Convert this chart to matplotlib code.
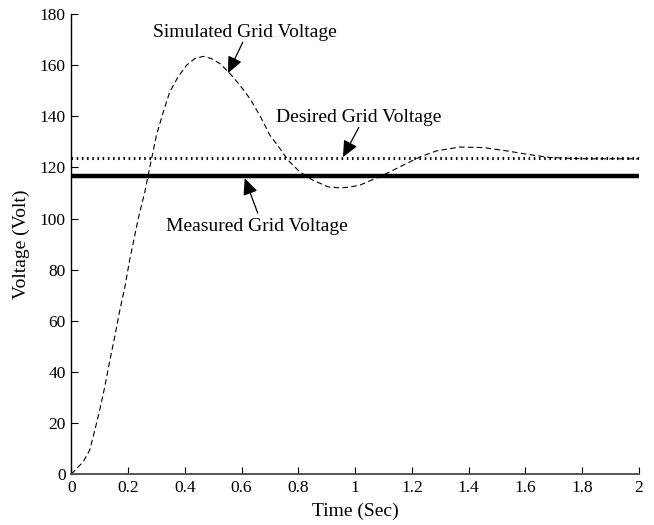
import matplotlib
matplotlib.use("Agg")
import matplotlib.pyplot as plt

plt.rcParams['font.family'] = ['Liberation Serif', 'DejaVu Serif']

# simulated grid voltage
t_sim = [0, 0.042, 0.065, 0.083, 0.100, 0.118, 0.136, 0.153, 0.171, 0.189,
         0.206, 0.236, 0.259, 0.271, 0.283, 0.300, 0.324, 0.347, 0.376, 0.406,
         0.435, 0.465, 0.494, 0.523, 0.559, 0.594, 0.629, 0.664, 0.700, 0.735,
         0.764, 0.805, 0.852, 0.905, 0.946, 0.980, 1.017, 1.099, 1.169, 1.228,
         1.287, 1.369, 1.451, 1.534, 1.604, 1.686, 1.750, 1.816, 2.0]
v_sim = [0, 4.8, 9.4, 17.2, 25.0, 34.2, 44.6, 53.7, 64.2, 73.3,
         84.0, 100.0, 110.4, 117.0, 123.5, 132.6, 141.7, 149.6, 155.4, 160.0,
         162.6, 163.5, 162.6, 160.7, 156.8, 152.2, 147.0, 140.4, 132.6, 127.4,
         122.8, 118.3, 115.0, 112.4, 112.0, 112.3, 113.1, 117.0, 120.9, 124.1,
         126.5, 128.0, 127.8, 126.5, 125.2, 123.9, 123.6, 123.4, 123.4]

t_span = [0, 2]
desired_v = 123.8
measured_v = 116.5

fig = plt.figure(figsize=(6.54, 5.25), dpi=100)
ax = fig.add_axes([0.109, 0.097, 0.868, 0.876])

ax.plot(t_sim, v_sim, color='k', lw=0.8, linestyle=(0, (5, 3)))
ax.plot(t_span, [desired_v, desired_v], color='k', lw=2.2, linestyle=(0, (0.5, 1.2)))
ax.plot(t_span, [measured_v, measured_v], color='k', lw=3.2, solid_capstyle='butt')

ax.set_xlim(0, 2)
ax.set_ylim(0, 180)
ax.set_xticks([0, 0.2, 0.4, 0.6, 0.8, 1, 1.2, 1.4, 1.6, 1.8, 2])
ax.set_xticklabels(['0', '0.2', '0.4', '0.6', '0.8', '1', '1.2', '1.4', '1.6', '1.8', '2'])
ax.set_yticks(range(0, 181, 20))
ax.tick_params(direction='in', length=5, labelsize=12.5, pad=4, color='k')

ax.spines['top'].set_visible(False)
ax.spines['right'].set_visible(False)
ax.spines['bottom'].set_color('#555555')
ax.spines['bottom'].set_linewidth(1.4)
ax.spines['left'].set_linewidth(1.0)

ax.set_xlabel('Time (Sec)', fontsize=14, labelpad=5)
ax.set_ylabel('Voltage (Volt)', fontsize=14, labelpad=7)

arrow = dict(arrowstyle='-|>,head_length=1.0,head_width=0.45', color='k', lw=0.9,
             shrinkA=0, shrinkB=0)
ax.text(0.611, 172.9, 'Simulated Grid Voltage', ha='center', va='center', fontsize=14)
ax.annotate('', xy=(0.552, 156.9), xytext=(0.604, 169), arrowprops=arrow)
ax.text(1.013, 139.7, 'Desired Grid Voltage', ha='center', va='center', fontsize=14)
ax.annotate('', xy=(0.957, 124.0), xytext=(1.013, 135.7), arrowprops=arrow)
ax.text(0.654, 97.0, 'Measured Grid Voltage', ha='center', va='center', fontsize=14)
ax.annotate('', xy=(0.611, 115.8), xytext=(0.657, 102.1), arrowprops=arrow)

fig.savefig('out.png', dpi=100)
